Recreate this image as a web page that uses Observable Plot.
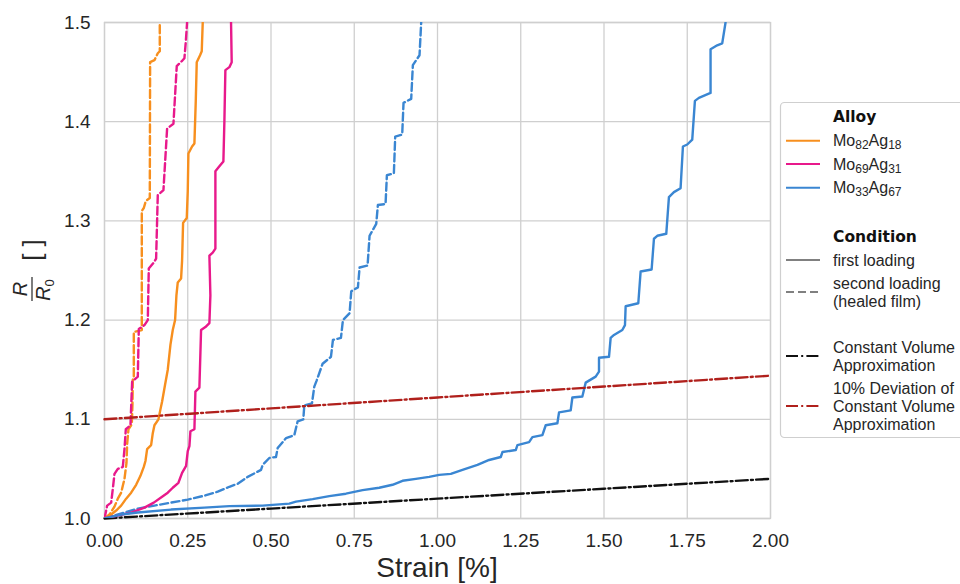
<!DOCTYPE html>
<html><head><meta charset="utf-8">
<script src="https://cdn.jsdelivr.net/npm/d3@7"></script>
<script src="https://cdn.jsdelivr.net/npm/@observablehq/plot@0.6"></script>
<style>body{margin:0;background:#fff}#chart svg{display:block}</style>
</head><body><div id="chart"></div>
<script>
// ---- data ----
const xTicks = [0, 0.25, 0.5, 0.75, 1.0, 1.25, 1.5, 1.75, 2.0];
const yTicks = [1.0, 1.1, 1.2, 1.3, 1.4, 1.5];
const alloys = ["Mo82Ag18", "Mo69Ag31", "Mo33Ag67"];
const alloyColors = ["#f78f1e", "#e8198b", "#3a86d2"];

const mo82First = [[0,1.0],[0.02,1.004],[0.035,1.008],[0.05,1.013],[0.065,1.02],[0.08,1.026],[0.095,1.034],[0.108,1.043],[0.118,1.052],[0.123,1.058],[0.128,1.07],[0.14,1.074],[0.145,1.086],[0.15,1.094],[0.162,1.1],[0.168,1.11],[0.173,1.118],[0.182,1.135],[0.19,1.15],[0.198,1.175],[0.205,1.19],[0.212,1.2],[0.216,1.225],[0.22,1.238],[0.23,1.242],[0.233,1.26],[0.236,1.298],[0.247,1.303],[0.25,1.33],[0.252,1.368],[0.263,1.375],[0.27,1.378],[0.274,1.42],[0.277,1.46],[0.287,1.467],[0.292,1.471],[0.295,1.5]];
const mo82Second = [[0,1.0],[0.015,1.004],[0.03,1.012],[0.04,1.02],[0.05,1.026],[0.055,1.033],[0.06,1.04],[0.066,1.056],[0.068,1.075],[0.072,1.09],[0.082,1.095],[0.084,1.115],[0.085,1.14],[0.088,1.142],[0.088,1.188],[0.112,1.19],[0.112,1.31],[0.118,1.313],[0.124,1.32],[0.136,1.323],[0.137,1.46],[0.15,1.462],[0.16,1.469],[0.166,1.471],[0.166,1.5]];
const mo69First = [[0,1.0],[0.04,1.003],[0.08,1.006],[0.12,1.011],[0.148,1.016],[0.173,1.022],[0.19,1.026],[0.205,1.031],[0.222,1.036],[0.233,1.046],[0.245,1.053],[0.25,1.068],[0.255,1.073],[0.258,1.088],[0.27,1.09],[0.273,1.128],[0.285,1.132],[0.29,1.19],[0.303,1.193],[0.315,1.197],[0.318,1.225],[0.315,1.265],[0.325,1.268],[0.333,1.272],[0.333,1.35],[0.345,1.355],[0.357,1.36],[0.36,1.4],[0.363,1.452],[0.375,1.455],[0.382,1.46],[0.38,1.5]];
const mo69Second = [[0,1.0],[0.008,1.013],[0.02,1.016],[0.025,1.03],[0.03,1.045],[0.04,1.05],[0.055,1.052],[0.06,1.07],[0.064,1.09],[0.078,1.094],[0.083,1.138],[0.1,1.143],[0.103,1.191],[0.12,1.195],[0.13,1.2],[0.133,1.252],[0.148,1.258],[0.155,1.262],[0.16,1.326],[0.177,1.331],[0.188,1.393],[0.207,1.398],[0.217,1.456],[0.232,1.461],[0.24,1.464],[0.244,1.48],[0.248,1.5]];
const mo33First = [[0,1.0],[0.05,1.004],[0.1,1.006],[0.2,1.009],[0.3,1.011],[0.375,1.0125],[0.475,1.013],[0.555,1.015],[0.575,1.017],[0.625,1.0195],[0.675,1.0226],[0.725,1.025],[0.775,1.0286],[0.825,1.031],[0.865,1.034],[0.895,1.038],[0.935,1.04],[0.975,1.042],[1.005,1.044],[1.04,1.045],[1.075,1.049],[1.12,1.054],[1.155,1.059],[1.19,1.062],[1.195,1.067],[1.235,1.069],[1.24,1.074],[1.275,1.077],[1.285,1.082],[1.315,1.084],[1.325,1.094],[1.36,1.096],[1.365,1.107],[1.4,1.109],[1.405,1.122],[1.435,1.123],[1.445,1.137],[1.465,1.141],[1.475,1.143],[1.485,1.148],[1.485,1.162],[1.515,1.163],[1.52,1.182],[1.53,1.185],[1.555,1.19],[1.563,1.195],[1.565,1.214],[1.603,1.217],[1.61,1.249],[1.643,1.251],[1.65,1.282],[1.66,1.285],[1.687,1.287],[1.695,1.324],[1.71,1.329],[1.73,1.333],[1.737,1.375],[1.75,1.377],[1.765,1.382],[1.773,1.421],[1.785,1.424],[1.82,1.429],[1.82,1.473],[1.84,1.477],[1.855,1.479],[1.865,1.5]];
const mo33Second = [[0,1.0],[0.03,1.003],[0.06,1.006],[0.1,1.01],[0.15,1.013],[0.2,1.016],[0.25,1.019],[0.3,1.023],[0.34,1.027],[0.375,1.032],[0.4,1.035],[0.43,1.042],[0.47,1.049],[0.475,1.054],[0.495,1.061],[0.515,1.062],[0.52,1.071],[0.545,1.081],[0.57,1.084],[0.58,1.098],[0.597,1.1],[0.6,1.114],[0.623,1.116],[0.63,1.133],[0.637,1.139],[0.655,1.156],[0.68,1.163],[0.686,1.18],[0.71,1.182],[0.716,1.2],[0.736,1.207],[0.741,1.229],[0.761,1.233],[0.766,1.253],[0.79,1.255],[0.796,1.285],[0.816,1.297],[0.821,1.316],[0.844,1.317],[0.848,1.346],[0.869,1.348],[0.873,1.385],[0.894,1.387],[0.898,1.419],[0.921,1.423],[0.926,1.457],[0.946,1.467],[0.951,1.5]];
const constVolume = [[0,1.0],[0.5,1.010],[1.0,1.020],[1.5,1.030],[2.0,1.040]];
const constVolume10 = [[0,1.100],[0.5,1.111],[1.0,1.122],[1.5,1.133],[2.0,1.144]];

// ---- build table ----
const rows = (arr, alloy) => arr.map(([x, y]) => ({x, y, alloy}));
const firstRows = [...rows(mo82First, alloys[0]), ...rows(mo69First, alloys[1]), ...rows(mo33First, alloys[2])];
const secondRows = [...rows(mo82Second, alloys[0]), ...rows(mo69Second, alloys[1]), ...rows(mo33Second, alloys[2])];
const cvRows = rows(constVolume, "cv");
const cv10Rows = rows(constVolume10, "cv10");

const FONT = "'Liberation Sans', Arial, Helvetica, sans-serif";
const TXT = "#262626";
const DASH = "8,3.5";
const DASHDOT = "12,3.2,2,3.2";
const LW = 2.4;

const plot = Plot.plot({
  width: 960, height: 584,
  marginLeft: 104, marginRight: 190, marginTop: 22, marginBottom: 66,
  style: {fontFamily: FONT, color: TXT, background: "#fff"},
  x: {domain: [0, 2], label: null},
  y: {domain: [1, 1.5], label: null},
  color: {domain: alloys, range: alloyColors},
  marks: [
    Plot.gridX(xTicks, {stroke: "#cfcfcf", strokeOpacity: 1, strokeWidth: 1.3}),
    Plot.gridY(yTicks, {stroke: "#cfcfcf", strokeOpacity: 1, strokeWidth: 1.3}),
    Plot.frame({stroke: "#cfcfcf", strokeWidth: 1.3}),
    Plot.line(cvRows, {x: "x", y: "y", stroke: "#111", strokeWidth: LW, strokeDasharray: DASHDOT}),
    Plot.line(secondRows, {x: "x", y: "y", z: "alloy", stroke: "alloy", strokeWidth: LW, strokeDasharray: DASH, clip: true}),
    Plot.line(firstRows, {x: "x", y: "y", z: "alloy", stroke: "alloy", strokeWidth: LW, clip: true}),
    Plot.line(cv10Rows, {x: "x", y: "y", stroke: "#b0201c", strokeWidth: LW, strokeDasharray: DASHDOT}),
    Plot.axisX(xTicks, {tickSize: 0, tickPadding: 15, fontSize: 19, tickFormat: d3.format(".2f"), label: null, fill: TXT}),
    Plot.axisY(yTicks, {tickSize: 0, tickPadding: 14, fontSize: 19, tickFormat: d3.format(".1f"), label: null, fill: TXT})
  ]
});
document.getElementById("chart").appendChild(plot);

// ---- axis titles & legend (text) ----
const svg = d3.select(plot);
svg.append("text").attr("x", 437).attr("y", 577).attr("text-anchor", "middle")
  .attr("font-family", FONT).attr("font-size", 28).attr("fill", TXT).text("Strain [%]");

const yl = svg.append("g").attr("transform", "translate(32,289) rotate(-90)")
  .attr("font-family", FONT).attr("fill", TXT);
yl.append("text").attr("x", 0).attr("y", -5).attr("text-anchor", "middle")
  .attr("font-size", 20).attr("font-style", "italic").text("R");
yl.append("line").attr("x1", -12).attr("x2", 12).attr("y1", 0).attr("y2", 0)
  .attr("stroke", TXT).attr("stroke-width", 1.2);
const den = yl.append("text").attr("x", -1).attr("y", 17.5).attr("text-anchor", "middle")
  .attr("font-size", 20).attr("font-style", "italic");
den.append("tspan").text("R");
den.append("tspan").attr("font-size", 13).attr("font-style", "normal").attr("dy", 4).text("0");
yl.append("text").attr("x", 39).attr("y", 0).attr("dy", "0.35em").attr("text-anchor", "middle")
  .attr("font-size", 26).text("[ ]");

const lg = svg.append("g").attr("font-family", FONT).attr("fill", TXT).attr("text-anchor", "start");
lg.append("rect").attr("x", 780.5).attr("y", 102.5).attr("width", 200).attr("height", 335)
  .attr("rx", 4).attr("fill", "#fff").attr("stroke", "#cfcfcf").attr("stroke-width", 1.2);

const TX = 833, L1 = 786, L2 = 820;
function title(txt, y) {
  lg.append("text").attr("x", TX).attr("y", y).attr("dy", "0.36em")
    .attr("font-family", "'DejaVu Sans', sans-serif").attr("font-weight", "bold")
    .attr("font-size", 15.5).attr("fill", "#111").text(txt);
}
function sym(y, color, dash) {
  const l = lg.append("line").attr("x1", L1).attr("x2", L2).attr("y1", y).attr("y2", y)
    .attr("stroke", color).attr("stroke-width", 2);
  if (dash) l.attr("stroke-dasharray", dash);
}
function label(lines, y0) {
  lines.forEach((s, i) => lg.append("text").attr("x", TX).attr("y", y0 + i * 18)
    .attr("dy", "0.35em").attr("font-size", 16).text(s));
}
function alloyLabel(a, b, c, d, y) {
  const t = lg.append("text").attr("x", TX).attr("y", y).attr("dy", "0.35em").attr("font-size", 16);
  t.append("tspan").text(a);
  t.append("tspan").attr("font-size", 12).attr("dy", 3).text(b);
  t.append("tspan").attr("dy", -3).text(c);
  t.append("tspan").attr("font-size", 12).attr("dy", 3).text(d);
}
title("Alloy", 116);
const alloyParts = [["Mo","82","Ag","18"],["Mo","69","Ag","31"],["Mo","33","Ag","67"]];
[140.7, 164, 187.7].forEach((y, i) => {
  sym(y, alloyColors[i]);
  alloyLabel(...alloyParts[i], y);
});
title("Condition", 236);
sym(260, "#808080"); label(["first loading"], 260);
sym(292, "#808080", "8,4"); label(["second loading", "(healed film)"], 283);
sym(356, "#111", DASHDOT); label(["Constant Volume", "Approximation"], 347);
sym(406, "#b0201c", DASHDOT); label(["10% Deviation of", "Constant Volume", "Approximation"], 388);
</script>
</body></html>
